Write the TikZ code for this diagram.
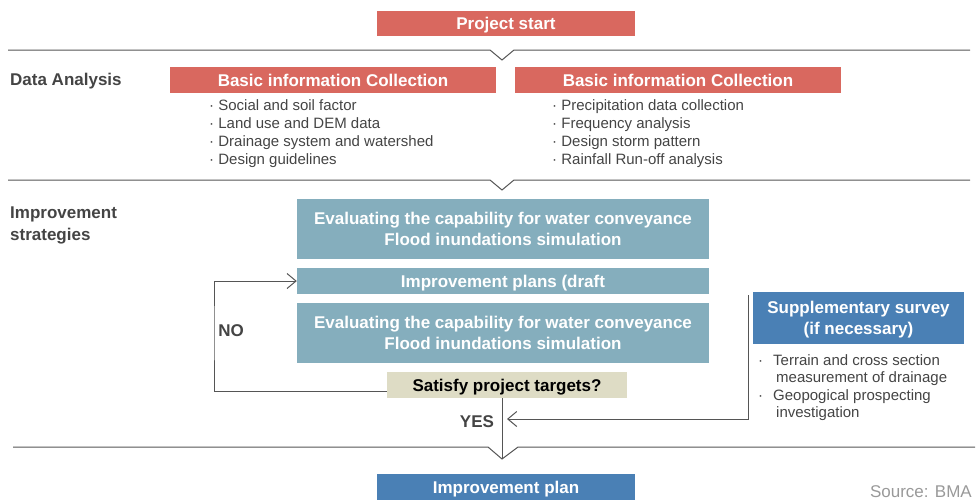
\documentclass[tikz,border=0pt]{standalone}
\usepackage{fontspec}
\setmainfont{Liberation Sans}
\usetikzlibrary{arrows.meta}

\definecolor{redbox}{HTML}{D9685F}
\definecolor{tealbox}{HTML}{85AEBD}
\definecolor{bluebox}{HTML}{4A80B5}
\definecolor{beigebox}{HTML}{DEDCC5}
\definecolor{ink}{HTML}{444444}
\definecolor{rulegray}{HTML}{555555}

\tikzstyle{box} = [rectangle, inner sep=0pt, align=center, text=white, font=\fontsize{17}{21}\selectfont\bfseries]
\tikzstyle{one} = [text height=12pt, text depth=0pt]
\tikzstyle{two} = [text height=33pt, text depth=0pt]
\tikzstyle{rbox} = [box, one, fill=redbox, minimum height=26pt]
\tikzstyle{tbox} = [box, fill=tealbox, minimum width=412pt]
\tikzstyle{bbox} = [box, fill=bluebox]
\tikzstyle{head} = [inner sep=0pt, text=ink, align=left, font=\fontsize{17}{22}\selectfont\bfseries]
\tikzstyle{items} = [anchor=north west, inner sep=0pt, text=ink, align=left, font=\fontsize{15}{18}\selectfont]
\tikzstyle{sep} = [draw=rulegray, line width=1pt]
\tikzstyle{arr} = [sep, -{Straight Barb[length=9pt,width=15pt]}]

\begin{document}
\begin{tikzpicture}[x=1pt, y=-1pt]
    \useasboundingbox (0,0) rectangle (979,499);

    \node[rbox, minimum width=258pt, minimum height=25pt] (start) at (506,23.5) {Project start};

    \draw[sep] (8,50) -- (490,50) -- (502,60) -- (514,50) -- (970,50);
    \node[head, anchor=west] (data) at (10,81.5) {Data Analysis};
    \node[rbox, minimum width=326pt] (basic1) at (333,80) {Basic information Collection};
    \node[rbox, minimum width=326pt] (basic2) at (678,80) {Basic information Collection};
    \node[items] (list1) at (209,99) {· Social and soil factor\\· Land use and DEM data\\· Drainage system and watershed\\· Design guidelines};
    \node[items] (list2) at (552,99) {· Precipitation data collection\\· Frequency analysis\\· Design storm pattern\\· Rainfall Run-off analysis};

    \draw[sep] (8,180) -- (490,180) -- (502,190) -- (514,180) -- (970,180);
    \node[head, anchor=west] (strat) at (10,225.5) {Improvement\\strategies};
    \node[tbox, two, minimum height=60pt] (eval1) at (503,229) {Evaluating the capability for water conveyance\\Flood inundations simulation};
    \node[tbox, one, minimum height=26pt] (draft) at (503,281) {Improvement plans (draft};
    \node[tbox, two, minimum height=60pt] (eval2) at (503,333) {Evaluating the capability for water conveyance\\Flood inundations simulation};
    \node[box, one, fill=beigebox, text=black, minimum width=240pt, minimum height=26pt] (check) at (507,385) {Satisfy project targets?};

    \coordinate (loop) at (214,330);
    \draw[arr] ([yshift=-6pt]check.west) -| (loop) |- (draft.west);
    \node[head] (no) at (231,331) {NO};

    \node[bbox, two, minimum width=211pt, minimum height=52pt] (sup) at (858.5,318) {Supplementary survey\\(if necessary)};
    \node[items, font=\fontsize{15}{17.5}\selectfont] (list3) at (758,354) {\makebox[15pt][l]{·}Terrain and cross section\\\hspace{18pt}measurement of drainage\\\makebox[15pt][l]{·}Geopogical prospecting\\\hspace{18pt}investigation};
    \coordinate (supv) at (748,295);
    \coordinate (suparr) at (507,419);
    \draw[arr] (supv) |- (suparr);

    \coordinate (tip) at (502,459);
    \draw[sep] (13,447) -- (488,447) -- (tip) -- (518,447) -- (975,447);
    \draw[sep] (check.south -| tip) -- (tip);
    \node[head] (yes) at (477,422) {YES};

    \node[bbox, one, minimum width=258pt, minimum height=26pt] (plan) at (506,487) {Improvement plan};
    \node[anchor=base east, inner sep=0pt, text=black!40, font=\fontsize{17}{20}\selectfont] (src) at (972,497) {Source: BMA};
\end{tikzpicture}
\end{document}
